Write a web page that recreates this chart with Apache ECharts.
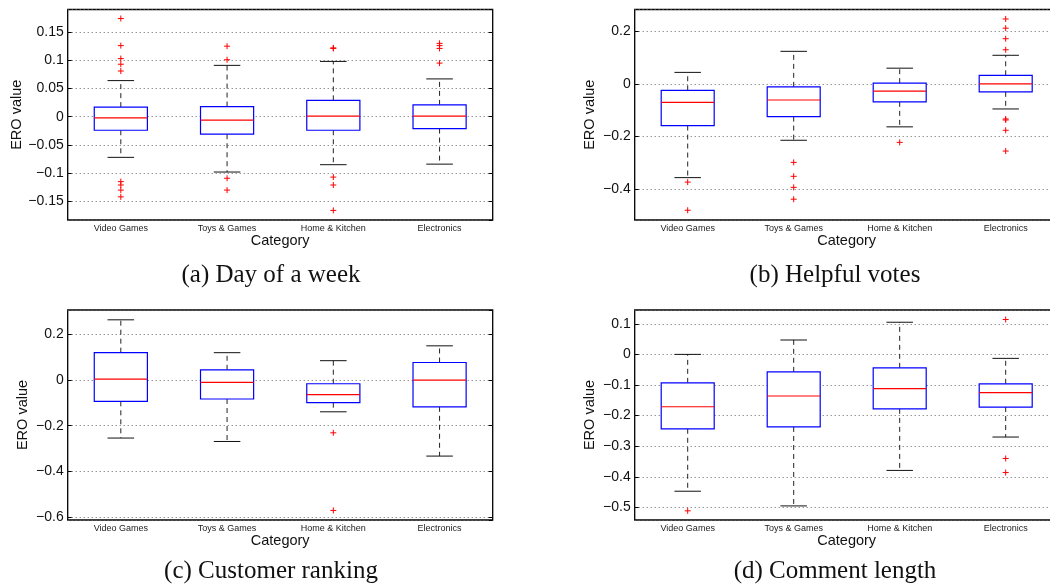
<!DOCTYPE html>
<html>
<head>
<meta charset="utf-8">
<script src="https://cdn.jsdelivr.net/npm/echarts@6/dist/echarts.min.js"></script>
<style>
html,body{margin:0;padding:0;background:#fff;}
#chart{width:1050px;height:587px;}
</style>
</head>
<body>
<div id="chart"></div>
<script>
// ---------------- data ----------------
const categories = ['Video Games', 'Toys & Games', 'Home & Kitchen', 'Electronics'];

// each box: [lower whisker, Q1, median, Q3, upper whisker]
const dayBoxes = [
  [-0.072, -0.024, -0.002, 0.017, 0.064],
  [-0.098, -0.031, -0.006, 0.018, 0.091],
  [-0.085, -0.024, 0.001, 0.029, 0.098],
  [-0.084, -0.021, 0.001, 0.021, 0.067]
];
const dayOutliers = [
  [0, 0.174], [0, 0.126], [0, 0.103], [0, 0.093], [0, 0.081],
  [0, -0.115], [0, -0.121], [0, -0.130], [0, -0.142],
  [1, 0.125], [1, 0.101], [1, -0.109], [1, -0.130],
  [2, 0.122], [2, 0.121], [2, -0.107], [2, -0.121], [2, -0.166],
  [3, 0.130], [3, 0.126], [3, 0.121], [3, 0.095]
];

const votesBoxes = [
  [-0.356, -0.158, -0.070, -0.024, 0.044],
  [-0.214, -0.124, -0.061, -0.011, 0.124],
  [-0.163, -0.068, -0.027, 0.003, 0.060],
  [-0.095, -0.030, 0.000, 0.033, 0.109]
];
const votesOutliers = [
  [0, -0.373], [0, -0.480],
  [1, -0.298], [1, -0.351], [1, -0.393], [1, -0.438],
  [2, -0.222],
  [3, 0.247], [3, 0.212], [3, 0.172], [3, 0.130],
  [3, -0.133], [3, -0.137], [3, -0.176], [3, -0.255]
];

const rankBoxes = [
  [-0.254, -0.093, 0.004, 0.120, 0.264],
  [-0.269, -0.083, -0.010, 0.045, 0.120],
  [-0.139, -0.099, -0.064, -0.016, 0.085],
  [-0.333, -0.117, 0.000, 0.077, 0.150]
];
const rankOutliers = [[2, -0.231], [2, -0.571]];

const lengthBoxes = [
  [-0.447, -0.243, -0.171, -0.093, 0.000],
  [-0.495, -0.237, -0.136, -0.057, 0.047],
  [-0.379, -0.178, -0.112, -0.044, 0.105],
  [-0.270, -0.172, -0.125, -0.096, -0.013]
];
const lengthOutliers = [[0, -0.511], [3, 0.114], [3, -0.340], [3, -0.386]];

// y-axis extents and tick labels
const dayRange = [-0.183, 0.19];
const votesRange = [-0.517, 0.283];
const rankRange = [-0.613, 0.307];
const lengthRange = [-0.541, 0.145];
const dayTicks = [-0.15, -0.1, -0.05, 0, 0.05, 0.1, 0.15];
const votesTicks = [-0.4, -0.2, 0, 0.2];
const rankTicks = [-0.6, -0.4, -0.2, 0, 0.2];
const lengthTicks = [-0.5, -0.4, -0.3, -0.2, -0.1, 0, 0.1];

const captions = ['(a) Day of a week', '(b) Helpful votes', '(c) Customer ranking', '(d) Comment length'];
const xAxisTitle = 'Category';
const yAxisTitle = 'ERO value';

// ---------------- layout ----------------
const panels = [
  {boxes: dayBoxes, outliers: dayOutliers, range: dayRange, ticks: dayTicks, split: 7,
   grid: {left: 67.7, top: 9.5, width: 425, height: 210.5}, nameGap: 43, cap: [271, 275]},
  {boxes: votesBoxes, outliers: votesOutliers, range: votesRange, ticks: votesTicks, split: 4,
   grid: {left: 634.7, top: 9.5, width: 424, height: 210.5}, nameGap: 37, cap: [835, 275]},
  {boxes: rankBoxes, outliers: rankOutliers, range: rankRange, ticks: rankTicks, split: 5,
   grid: {left: 67.7, top: 310, width: 425, height: 210}, nameGap: 37, cap: [271, 571]},
  {boxes: lengthBoxes, outliers: lengthOutliers, range: lengthRange, ticks: lengthTicks, split: 7,
   grid: {left: 634.7, top: 310, width: 424, height: 210}, nameGap: 37, cap: [835, 571]}
];

const SANS = '"Liberation Sans", Arial, Helvetica, sans-serif';
const SERIF = '"Liberation Serif", "Times New Roman", serif';

function fmt(ticks) {
  return function (v) {
    const hit = ticks.find(t => Math.abs(t - v) < 1e-9);
    if (hit === undefined) return '';
    return String(hit).replace('-', '\u2212');
  };
}

function renderBox(params, api) {
  const cat = api.value(0);
  const vals = [api.value(1), api.value(2), api.value(3), api.value(4), api.value(5)];
  const pts = vals.map(v => api.coord([cat, v]));
  const band = api.size([1, 0])[0];
  const x = pts[0][0];
  const bh = band * 0.25;
  const ch = band * 0.125;
  const yLo = pts[0][1], yQ1 = pts[1][1], yMed = pts[2][1], yQ3 = pts[3][1], yHi = pts[4][1];
  const dash = {stroke: '#222', lineWidth: 1, lineDash: [5, 4], fill: null};
  const solid = {stroke: '#111', lineWidth: 1, fill: null};
  return {
    type: 'group',
    children: [
      {type: 'line', shape: {x1: x, y1: yQ3, x2: x, y2: yHi}, style: dash},
      {type: 'line', shape: {x1: x, y1: yQ1, x2: x, y2: yLo}, style: dash},
      {type: 'line', shape: {x1: x - ch, y1: yHi, x2: x + ch, y2: yHi}, style: solid},
      {type: 'line', shape: {x1: x - ch, y1: yLo, x2: x + ch, y2: yLo}, style: solid},
      {type: 'rect', shape: {x: x - bh, y: yQ3, width: 2 * bh, height: yQ1 - yQ3},
       style: {stroke: '#0000ff', lineWidth: 1.2, fill: '#ffffff'}},
      {type: 'line', shape: {x1: x - bh, y1: yMed, x2: x + bh, y2: yMed},
       style: {stroke: '#ff0000', lineWidth: 1.2}}
    ]
  };
}

function renderPlus(params, api) {
  const p = api.coord([api.value(0), api.value(1)]);
  const s = 3;
  const st = {stroke: '#ff0000', lineWidth: 1};
  return {
    type: 'group',
    children: [
      {type: 'line', shape: {x1: p[0] - s, y1: p[1], x2: p[0] + s, y2: p[1]}, style: st},
      {type: 'line', shape: {x1: p[0], y1: p[1] - s, x2: p[0], y2: p[1] + s}, style: st}
    ]
  };
}

const option = {
  backgroundColor: '#ffffff',
  animation: false,
  grid: [], xAxis: [], yAxis: [], series: [], graphic: []
};

panels.forEach((p, i) => {
  option.grid.push(Object.assign({
    show: true, borderColor: '#000', borderWidth: 1.3, backgroundColor: '#fff',
    containLabel: false, outerBoundsMode: 'none'
  }, p.grid));
  option.xAxis.push({
    type: 'category', gridIndex: i, data: categories, boundaryGap: true,
    axisLine: {show: false}, axisTick: {show: false}, splitLine: {show: false},
    axisLabel: {fontFamily: SANS, fontSize: 9, color: '#222', margin: 4, interval: 0},
    name: xAxisTitle, nameLocation: 'middle', nameGap: 13,
    nameTextStyle: {fontFamily: SANS, fontSize: 14.5, color: '#111'}
  });
  const yBase = {
    type: 'value', gridIndex: i, min: p.range[0], max: p.range[1], splitNumber: p.split,
    axisLine: {show: false}
  };
  option.yAxis.push(Object.assign({}, yBase, {
    position: 'left',
    axisTick: {show: true, inside: true, length: 4, lineStyle: {color: '#000', width: 1}},
    axisLabel: {fontFamily: SANS, fontSize: 14, color: '#111', margin: 4,
                showMinLabel: false, showMaxLabel: false, formatter: fmt(p.ticks)},
    splitLine: {show: true, lineStyle: {color: '#666', width: 1, type: [1, 3]}},
    name: yAxisTitle, nameLocation: 'middle', nameGap: p.nameGap, nameRotate: 90,
    nameTextStyle: {fontFamily: SANS, fontSize: 14.5, color: '#111'}
  }));
  option.yAxis.push(Object.assign({}, yBase, {
    position: 'right',
    axisTick: {show: true, inside: true, length: 4, lineStyle: {color: '#000', width: 1}},
    axisLabel: {show: false}, splitLine: {show: false}
  }));
  option.series.push({
    type: 'custom', xAxisIndex: i, yAxisIndex: 2 * i, renderItem: renderBox,
    encode: {x: 0, y: [1, 2, 3, 4, 5]},
    data: p.boxes.map((b, k) => [k].concat(b)), z: 3
  });
  option.series.push({
    type: 'custom', xAxisIndex: i, yAxisIndex: 2 * i, renderItem: renderPlus,
    encode: {x: 0, y: 1},
    data: p.outliers, z: 4
  });
  option.graphic.push({
    type: 'text', x: p.cap[0], y: p.cap[1],
    style: {text: captions[i], font: '25px ' + SERIF, fill: '#111',
            textAlign: 'center', textVerticalAlign: 'middle'}
  });
});

const chart = echarts.init(document.getElementById('chart'), null, {renderer: 'canvas'});
chart.setOption(option);
</script>
</body>
</html>
